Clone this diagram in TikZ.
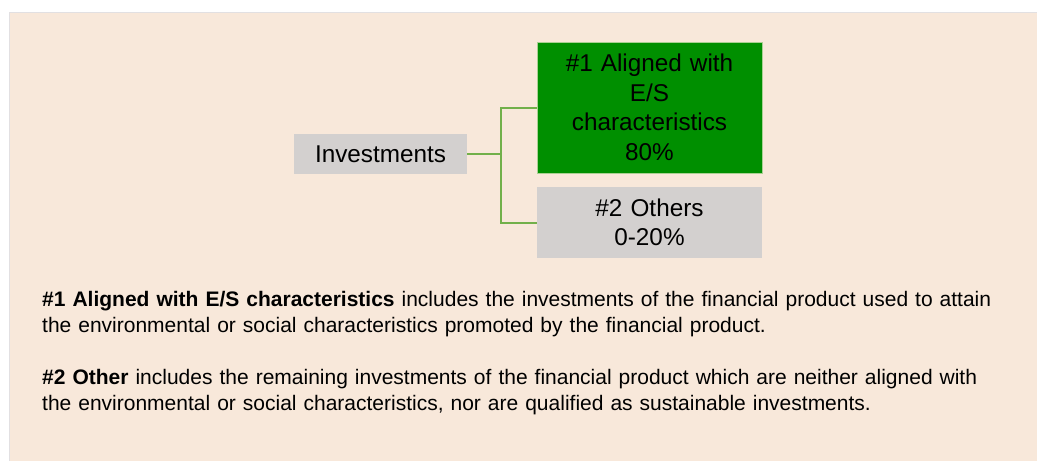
\documentclass[tikz,border=0pt]{standalone}
\usepackage{fontspec}
\setmainfont{Liberation Sans}
\usetikzlibrary{calc}
\definecolor{peach}{HTML}{F8E8DA}
\definecolor{edgegray}{HTML}{E2E0E2}
\definecolor{boxgray}{HTML}{D3D0CF}
\definecolor{boxgreen}{HTML}{008F00}
\definecolor{linkgreen}{HTML}{72B04A}
\begin{document}
\begin{tikzpicture}[x=1pt,y=-1pt,
		box/.style={fill=boxgray,inner sep=0pt,align=center,text width=#1,
			font=\fontsize{24.3}{29.5}\selectfont},
		link/.style={draw=linkgreen,line width=2pt},
		para/.style={anchor=north west,inner sep=0pt,align=left,text width=995pt,
			font=\fontsize{21}{26}\selectfont}]
		\useasboundingbox (0,0) rectangle (1037,461);
		\fill[peach] (9,12) rectangle (1037,461);
		\draw[edgegray,line width=1pt] (9,461) -- (9,12) -- (1037,12);
		% tree
		\node[box=173pt,minimum height=40pt] (inv) at (380.5,154) {Investments};
		\node[box=225pt,minimum height=131pt,fill=boxgreen,draw=linkgreen!60,line width=0.8pt] (aligned) at (649.5,107.5)
			{\#1 Aligned with\\E/S\\characteristics\\80\%};
		\node[box=225pt,minimum height=71pt] (other) at (649.5,222.5) {\#2 Others\\0-20\%};
		\coordinate (split) at ($(inv.east)+(34,0)$);
		\draw[link] (inv.east) -- (split);
		\draw[link] (split) |- (aligned.west);
		\draw[link] (split) |- (other.west);
		% notes
		\node[para] (note1) at (42,291) {\textbf{\#1 Aligned with E/S characteristics} includes the investments of the financial product used to attain\\
			the environmental or social characteristics promoted by the financial product.};
		\node[para] (note2) at (42,369) {\textbf{\#2 Other} includes the remaining investments of the financial product which are neither aligned with\\
			the environmental or social characteristics, nor are qualified as sustainable investments.};
\end{tikzpicture}
\end{document}
